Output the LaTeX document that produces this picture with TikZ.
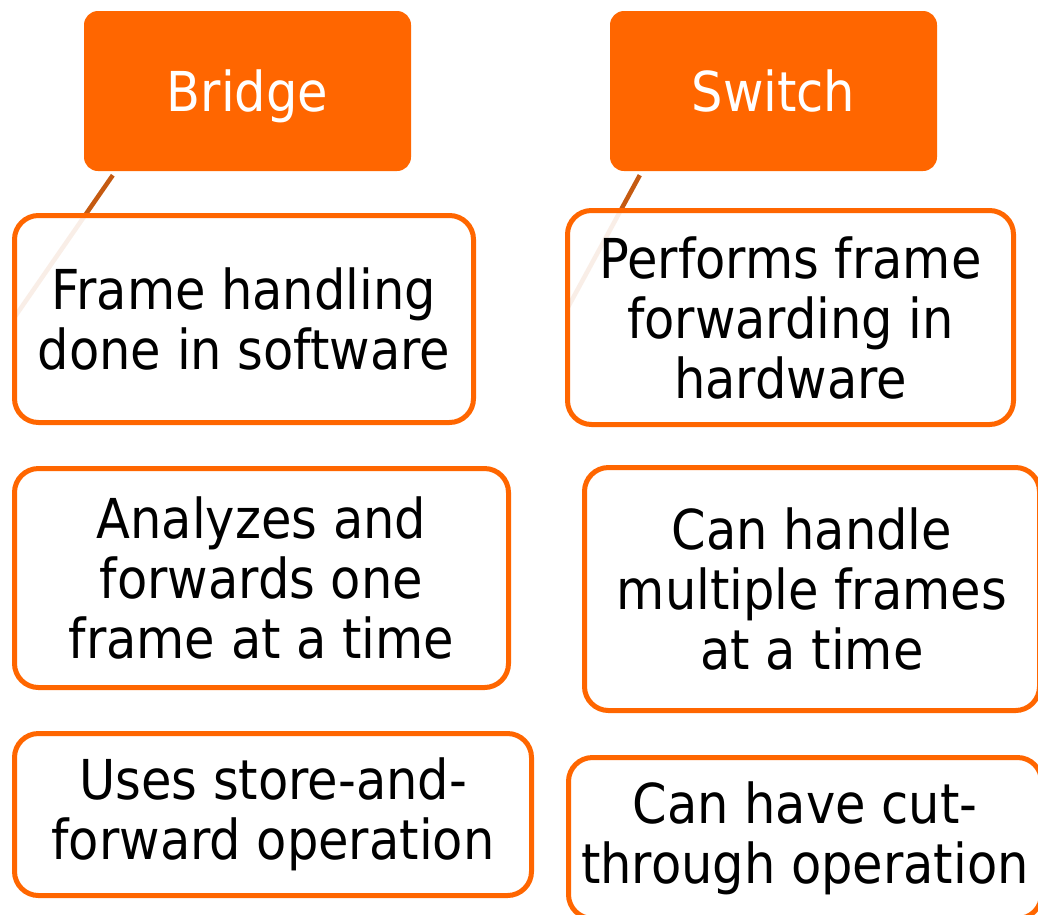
\documentclass[tikz,border=0pt]{standalone}
\usepackage{fontspec}
\setmainfont{DejaVu Sans Condensed}
\definecolor{hdorange}{RGB}{255,102,0}
\definecolor{linkbrown}{RGB}{197,90,17}
\begin{document}
\begin{tikzpicture}[x=1pt,y=-1pt,
  txt/.style={font=\fontsize{55}{60}\selectfont},
  head/.style={txt, rounded corners=14pt, fill=hdorange, text=white,
    minimum width=327pt, minimum height=160pt, inner sep=0pt,
    text height=40pt, text depth=0pt},
  item/.style={txt, draw=hdorange, line width=5pt, rounded corners=24pt,
    fill=white, fill opacity=0.9, text opacity=1, align=center, inner sep=0pt},
  link/.style={draw=linkbrown, line width=4.5pt}]
\useasboundingbox (0,0) rectangle (1038,914);

% column headings
\node[head] (bridge) at (247.5,91) {Bridge};
\node[head] (switch) at (773.5,91) {Switch};

% free ends of the two heading links
\coordinate (bend) at (14,318);
\coordinate (send) at (567,309);
\draw[link] ([xshift=29pt,yshift=-4pt]bridge.south west) -- (bend);
\draw[link] ([xshift=30pt,yshift=-4pt]switch.south west) -- (send);

% bridge properties
\node[item, minimum width=459pt, minimum height=207pt] (b1) at (244,319)
  {Frame handling\\done in software};
\node[item, minimum width=494pt, minimum height=219pt] (b2) at (261.5,578)
  {Analyzes and\\forwards one\\frame at a time};
\node[item, minimum width=517pt, minimum height=162pt] (b3) at (273,814.5)
  {Uses store-and-\\forward operation};

% switch properties
\node[item, minimum width=446pt, minimum height=214pt] (s1) at (790.5,317.5)
  {Performs frame\\forwarding in\\hardware};
\node[item, minimum width=455pt, minimum height=243pt] (s2) at (812,589)
  {Can handle\\multiple frames\\at a time};
\node[item, minimum width=473pt, minimum height=161pt] (s3) at (805,838)
  {Can have cut-\\through operation};
\end{tikzpicture}
\end{document}
